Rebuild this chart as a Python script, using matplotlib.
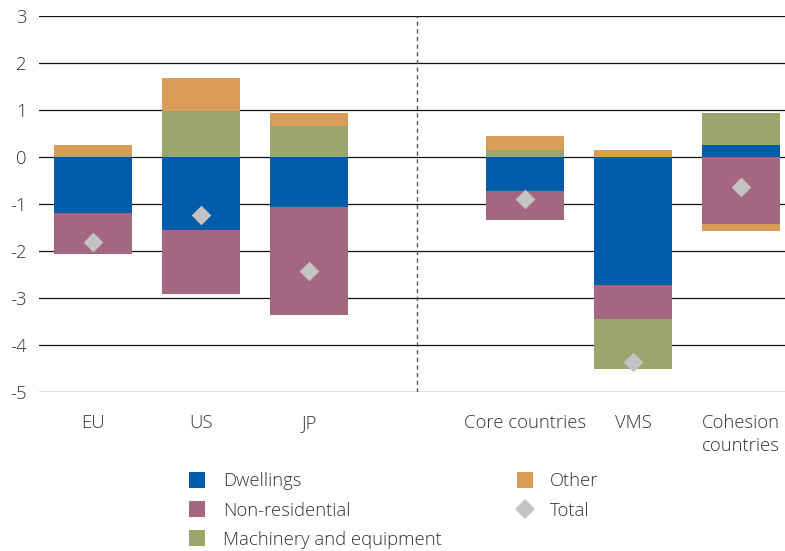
import numpy as np
import matplotlib
matplotlib.use("Agg")
import matplotlib.pyplot as plt
from matplotlib.lines import Line2D

plt.rcParams['font.family'] = ['Open Sans', 'DejaVu Sans']
plt.rcParams['font.weight'] = 'light'

categories = ["EU", "US", "JP", "", "Core countries", "VMS", "Cohesion\ncountries"]
dwellings = [-1.19, -1.55, -1.06, np.nan, -0.72, -2.72, 0.26]
non_residential = [-0.87, -1.36, -2.30, np.nan, -0.62, -0.72, -1.42]
machinery = [0.03, 0.98, 0.66, np.nan, 0.15, -1.07, 0.68]
other = [0.22, 0.70, 0.28, np.nan, 0.30, 0.15, -0.15]
total = [-1.81, -1.23, -2.42, np.nan, -0.89, -4.36, -0.63]

series = [
    ("Dwellings", dwellings, "#005BAA"),
    ("Non-residential", non_residential, "#A3687F"),
    ("Machinery and equipment", machinery, "#9AA66C"),
    ("Other", other, "#D99D57"),
]

FS = 13.3

fig = plt.figure(figsize=(7.85, 5.51), dpi=100)
ax = fig.add_axes([39/785, 1-392/551, 1-39/785, (392-16)/551])

x = np.arange(len(categories))
pos_base = np.zeros(len(categories))
neg_base = np.zeros(len(categories))
for name, vals, col in series:
    v = np.nan_to_num(np.array(vals, dtype=float))
    base = np.where(v >= 0, pos_base, neg_base)
    ax.bar(x, v, bottom=base, width=0.72, color=col, zorder=3, linewidth=0)
    pos_base = pos_base + np.where(v >= 0, v, 0)
    neg_base = neg_base + np.where(v < 0, v, 0)

ax.scatter(x, total, marker="D", s=100, color="#C3C3C3", zorder=4, linewidths=0)

ax.set_ylim(-5, 3)
ax.set_xlim(-0.5, 6.407)
ax.set_yticks(range(-5, 4))
ax.set_yticklabels([str(t) for t in range(-5, 4)])
for t in range(-5, 4):
    ax.axhline(t, color="#111111", lw=0.9, zorder=2)
ax.axvline(3, color="#555555", lw=1.0, ls=(0, (3, 2.5)), zorder=2)

ax.set_xticks(x)
ax.set_xticklabels(categories, va="top", linespacing=1.35)
ax.tick_params(axis="both", length=0, labelsize=FS, colors="#333333")
ax.tick_params(axis="x", pad=16)
ax.tick_params(axis="y", pad=9)
for s in ax.spines.values():
    s.set_visible(False)

handles = [Line2D([], [], marker="s", ls="", markersize=11, color=c, markeredgewidth=0) for _, _, c in series]
labels = [n for n, _, _ in series]
handles.append(Line2D([], [], marker="D", ls="", markersize=10, color="#C3C3C3", markeredgewidth=0))
labels.append("Total")
fig.legend(handles, labels, loc="upper left", bbox_to_anchor=(179/785, 1-463/551),
           ncol=2, frameon=False, fontsize=FS, handlelength=1.0, handletextpad=0.88,
           columnspacing=4.0, labelspacing=0.61, labelcolor="#333333", borderpad=0)

fig.savefig("out.png", dpi=100)
